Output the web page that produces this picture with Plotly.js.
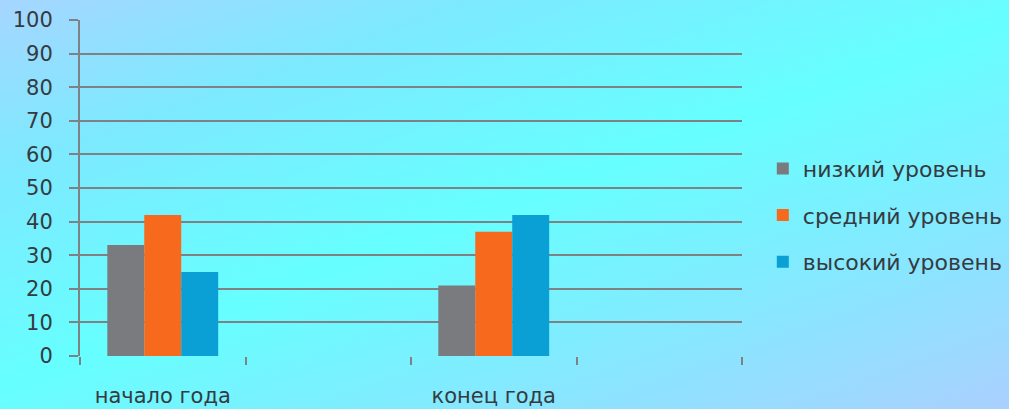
<!DOCTYPE html>
<html><head><meta charset="utf-8">
<script src="https://cdn.plot.ly/plotly-3.0.1.min.js"></script>
<style>
html,body{margin:0;padding:0;}
body{width:1009px;height:409px;overflow:hidden;
background:linear-gradient(160deg,#a6d6ff 0%,#7de9ff 22%,#66ffff 50%,#86e8ff 75%,#aad0ff 100%);}
#chart{width:1009px;height:409px;}
</style></head>
<body><div id="chart"></div>
<script>
const categories = ['начало года', ' ', 'конец года', '  '];
const seriesNames = ['низкий уровень', 'средний уровень', 'высокий уровень'];
const lowLevel = [33, null, 21, null];
const midLevel = [42, null, 37, null];
const highLevel = [25, null, 42, null];
const yTicks = [0,10,20,30,40,50,60,70,80,90,100];
const colors = ['#7a7b7e', '#f7691c', '#0aa0d6'];

const series = [lowLevel, midLevel, highLevel];
const traces = series.map((vals, i) => ({
  type: 'bar', name: seriesNames[i], x: categories, y: vals,
  marker: {color: colors[i], line: {width: 0}},
  legendgroup: 'g' + i, hoverinfo: 'none'
}));

const font = {family: 'DejaVu Sans, Liberation Sans, sans-serif', size: 21, color: '#353b40'};
const legendFont = {family: 'DejaVu Sans, Liberation Sans, sans-serif', size: 22, color: '#353b40'};
const layout = {
  width: 1009, height: 409,
  paper_bgcolor: 'rgba(0,0,0,0)', plot_bgcolor: 'rgba(0,0,0,0)',
  margin: {l: 80, r: 267, t: 20, b: 53, autoexpand: false},
  barmode: 'group', bargap: 0.33, bargroupgap: 0,
  font: font,
  showlegend: true,
  legend: {xref: 'container', yref: 'container', x: 0.756, y: 0.474,
           xanchor: 'left', yanchor: 'middle', font: legendFont,
           tracegroupgap: 15, traceorder: 'grouped', bgcolor: 'rgba(0,0,0,0)'},
  xaxis: {type: 'category', categoryorder: 'array', categoryarray: categories,
          tickson: 'boundaries', ticks: 'outside', ticklen: 8, tickwidth: 2, tickcolor: '#7f8285',
          showgrid: false, showline: false, zeroline: false,
          ticklabelstandoff: 25, tickfont: font, fixedrange: true},
  yaxis: {range: [0, 100], tickvals: yTicks, ticks: 'outside', ticklen: 9, tickwidth: 2,
          tickcolor: '#7f8285', showgrid: true, gridcolor: '#7f8285', gridwidth: 2,
          showline: true, linecolor: '#7f8285', linewidth: 2, zeroline: false,
          tickfont: font, ticklabelstandoff: 12, fixedrange: true}
};
Plotly.newPlot('chart', traces, layout, {displayModeBar: false, staticPlot: true});
</script></body></html>
